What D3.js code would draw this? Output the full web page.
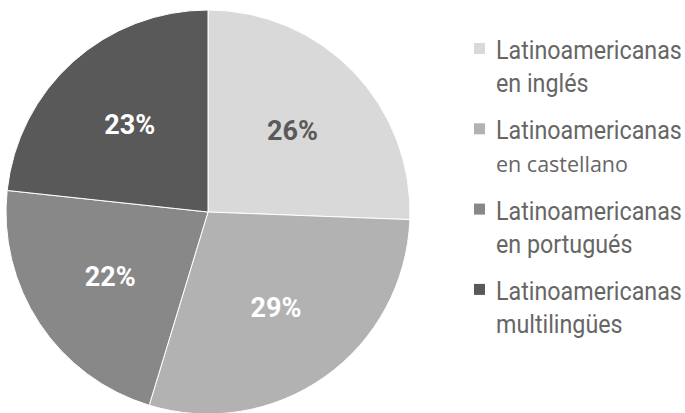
<!DOCTYPE html>
<html>
<head>
<meta charset="utf-8">
<script src="https://cdn.jsdelivr.net/npm/d3@7"></script>
<style>
  body { margin: 0; background: #fff; }
  svg { display: block; }
</style>
</head>
<body>
<div id="chart"></div>
<script>
// data
const categories = [
  ['Latinoamericanas', 'en inglés'],
  ['Latinoamericanas', 'en castellano'],
  ['Latinoamericanas', 'en portugués'],
  ['Latinoamericanas', 'multilingües']
];
const values = [25.6, 29.1, 22.0, 23.3];
const colors = ['#d9d9d9', '#b2b2b2', '#888888', '#595959'];
const labelColors = ['#595959', '#fff', '#fff', '#fff'];

const dim = { width: 685, height: 413 };
const cx = 208, cy = 212, radius = 202;

let svg = d3.select('#chart').append('svg')
  .attr('width', dim.width)
  .attr('height', dim.height);

let rows = values.map((v, i) => ({ name: categories[i], value: v, i: i }));

let pie = d3.pie().sort(null).value(d => d.value);
let arcs = pie(rows);

let arc = d3.arc().innerRadius(0).outerRadius(radius);
let labelArc = d3.arc().innerRadius(radius * 0.58).outerRadius(radius * 0.58);

let g = svg.append('g').attr('transform', `translate(${cx},${cy})`);

g.selectAll('path')
  .data(arcs)
  .join('path')
  .attr('d', arc)
  .attr('fill', d => colors[d.data.i])
  .attr('stroke', '#fff')
  .attr('stroke-width', 1);

g.selectAll('text')
  .data(arcs)
  .join('text')
  .attr('transform', d => `translate(${labelArc.centroid(d)})`)
  .attr('text-anchor', 'middle')
  .attr('dy', '0.35em')
  .attr('font-family', 'Roboto, sans-serif')
  .attr('font-weight', 700)
  .attr('font-size', 27)
  .attr('fill', d => labelColors[d.data.i])
  .text(d => Math.round(d.data.value) + '%');

// legend
let legend = svg.append('g').attr('transform', 'translate(474,59)');
let item = legend.selectAll('g')
  .data(rows)
  .join('g')
  .attr('transform', (d, i) => `translate(0,${i * 80.3})`);

item.append('rect')
  .attr('x', 0)
  .attr('y', -16)
  .attr('width', 11)
  .attr('height', 11)
  .attr('fill', d => colors[d.i]);

// the original face is narrower than Roboto, so squeeze it to the same width
let txt = item.append('g').attr('class', 'txt');

txt.append('text')
  .attr('class', 'l1')
  .attr('x', 0)
  .attr('y', 0)
  .attr('font-family', 'Roboto, sans-serif')
  .attr('font-size', 25)
  .attr('fill', '#666')
  .text(d => d.name[0]);

// "castellano" shows in a different face in the original
txt.filter(d => d.i != 1).append('text')
  .attr('x', 0)
  .attr('y', 33)
  .attr('font-family', 'Roboto, sans-serif')
  .attr('font-size', 25)
  .attr('fill', '#666')
  .text(d => d.name[1]);

let w = svg.select('.l1').node().getComputedTextLength();
let sx = 186 / w;
txt.attr('transform', `translate(22,0) scale(${sx},1)`);

item.filter(d => d.i == 1).append('text')
  .attr('x', 22)
  .attr('y', 33)
  .attr('font-family', '"Open Sans", sans-serif')
  .attr('font-size', 21.5)
  .attr('fill', '#666')
  .text(d => d.name[1]);
</script>
</body>
</html>
